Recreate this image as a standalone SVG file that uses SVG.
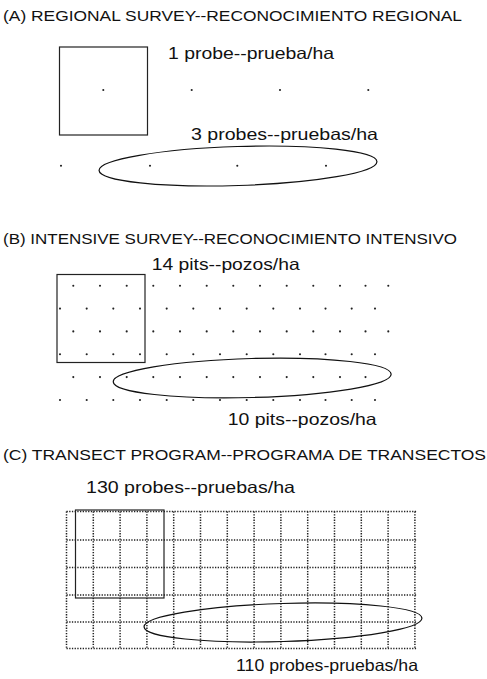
<svg xmlns="http://www.w3.org/2000/svg" width="487" height="679" viewBox="0 0 487 679">
<style>
  text { font-family: "Liberation Sans", Arial, sans-serif; fill: #111; }
  .title { font-size: 14.5px; }
  .lbl { font-size: 16.5px; }
  .box { fill: none; stroke: #222; stroke-width: 1.2; }
  .oval { fill: none; stroke: #111; stroke-width: 1.2; }
  .dot { fill: #222; }
  .grid line { stroke: #222; stroke-width: 1.5; stroke-dasharray: 1.3 1.4; }
</style>
<defs>
  <circle id="d" r="1.05" class="dot"/>
  <g id="rowOdd">
    <use href="#d" x="73.3"/><use href="#d" x="100"/><use href="#d" x="126.7"/><use href="#d" x="153.3"/>
    <use href="#d" x="180"/><use href="#d" x="206.7"/><use href="#d" x="233.3"/><use href="#d" x="260"/>
    <use href="#d" x="286.7"/><use href="#d" x="313.3"/><use href="#d" x="340"/><use href="#d" x="365.5"/>
  </g>
  <g id="rowEven">
    <use href="#d" x="60"/><use href="#d" x="86.7"/><use href="#d" x="113.3"/><use href="#d" x="140"/>
    <use href="#d" x="166.7"/><use href="#d" x="193.3"/><use href="#d" x="220"/><use href="#d" x="246.7"/>
    <use href="#d" x="273.3"/><use href="#d" x="300"/><use href="#d" x="325.5"/><use href="#d" x="351.7"/>
    <use href="#d" x="375"/>
  </g>
</defs>

<!-- Section A -->
<g id="sectionA">
  <text id="titleA" class="title" x="3" y="21" textLength="459" lengthAdjust="spacingAndGlyphs">(A) REGIONAL SURVEY--RECONOCIMIENTO REGIONAL</text>
  <g id="squareA"><rect class="box" x="59.5" y="47" width="88" height="88"/></g>
  <g id="dotsA">
    <use href="#d" x="103.3" y="90"/><use href="#d" x="191.7" y="90"/><use href="#d" x="280" y="90"/><use href="#d" x="368.3" y="90"/>
    <use href="#d" x="61" y="165.7"/><use href="#d" x="150" y="165.7"/><use href="#d" x="237.3" y="165.7"/><use href="#d" x="326" y="165.7"/>
  </g>
  <g id="ovalA"><ellipse class="oval" cx="238" cy="166" rx="139" ry="19.5" transform="rotate(-1.8 238 166)"/></g>
  <text id="labelA1" class="lbl" x="168" y="58.5" textLength="166" lengthAdjust="spacingAndGlyphs">1 probe--prueba/ha</text>
  <text id="labelA2" class="lbl" x="191" y="140" textLength="187" lengthAdjust="spacingAndGlyphs">3 probes--pruebas/ha</text>
</g>

<!-- Section B -->
<g id="sectionB">
  <text id="titleB" class="title" x="3" y="243.5" textLength="454" lengthAdjust="spacingAndGlyphs">(B) INTENSIVE SURVEY--RECONOCIMIENTO INTENSIVO</text>
  <text id="labelB1" class="lbl" x="151.7" y="269.5" textLength="148" lengthAdjust="spacingAndGlyphs">14 pits--pozos/ha</text>
  <g id="squareB"><rect class="box" x="57" y="274.5" width="88" height="88"/></g>
  <g id="dotsB">
    <use href="#rowOdd" y="285.7"/><use href="#d" x="388.3" y="285.7"/>
    <use href="#rowEven" y="308.6"/>
    <use href="#rowOdd" y="331.4"/><use href="#d" x="388.3" y="331.4"/>
    <use href="#rowEven" y="354.3"/>
    <use href="#rowOdd" y="377.1"/>
    <use href="#rowEven" y="400"/>
  </g>
  <g id="ovalB"><ellipse class="oval" cx="252.2" cy="378" rx="139" ry="19.5" transform="rotate(-1.6 252.2 378)"/></g>
  <text id="labelB2" class="lbl" x="227.7" y="424.5" textLength="149" lengthAdjust="spacingAndGlyphs">10 pits--pozos/ha</text>
</g>

<!-- Section C -->
<g id="sectionC">
  <text id="titleC" class="title" x="3" y="459.5" textLength="483" lengthAdjust="spacingAndGlyphs">(C) TRANSECT PROGRAM--PROGRAMA DE TRANSECTOS</text>
  <text id="labelC1" class="lbl" x="86" y="492.5" textLength="209" lengthAdjust="spacingAndGlyphs">130 probes--pruebas/ha</text>
  <g id="gridC" class="grid">
    <line x1="66.5" y1="511.5" x2="417" y2="511.5"/>
    <line x1="66.5" y1="540" x2="417" y2="540"/>
    <line x1="66.5" y1="567.5" x2="417" y2="567.5"/>
    <line x1="66.5" y1="595" x2="417" y2="595"/>
    <line x1="66.5" y1="622" x2="417" y2="622"/>
    <line x1="66.5" y1="648.5" x2="417" y2="648.5"/>
    <line x1="66.5" y1="511.5" x2="66.5" y2="648.5"/>
    <line x1="93.3" y1="511.5" x2="93.3" y2="648.5"/>
    <line x1="120.1" y1="511.5" x2="120.1" y2="648.5"/>
    <line x1="146.9" y1="511.5" x2="146.9" y2="648.5"/>
    <line x1="173.7" y1="511.5" x2="173.7" y2="648.5"/>
    <line x1="200.5" y1="511.5" x2="200.5" y2="648.5"/>
    <line x1="227.3" y1="511.5" x2="227.3" y2="648.5"/>
    <line x1="254.1" y1="511.5" x2="254.1" y2="648.5"/>
    <line x1="280.9" y1="511.5" x2="280.9" y2="648.5"/>
    <line x1="307.7" y1="511.5" x2="307.7" y2="648.5"/>
    <line x1="334.5" y1="511.5" x2="334.5" y2="648.5"/>
    <line x1="361.3" y1="511.5" x2="361.3" y2="648.5"/>
    <line x1="388.1" y1="511.5" x2="388.1" y2="648.5"/>
    <line x1="414.9" y1="511.5" x2="414.9" y2="648.5"/>
  </g>
  <g id="squareC"><rect class="box" x="75.5" y="510" width="88.5" height="88"/></g>
  <g id="ovalC"><ellipse class="oval" cx="283" cy="622.5" rx="139" ry="19" transform="rotate(-1.8 283 622.5)"/></g>
  <text id="labelC2" class="lbl" x="236" y="670.5" textLength="182" lengthAdjust="spacingAndGlyphs">110 probes-pruebas/ha</text>
</g>
</svg>
